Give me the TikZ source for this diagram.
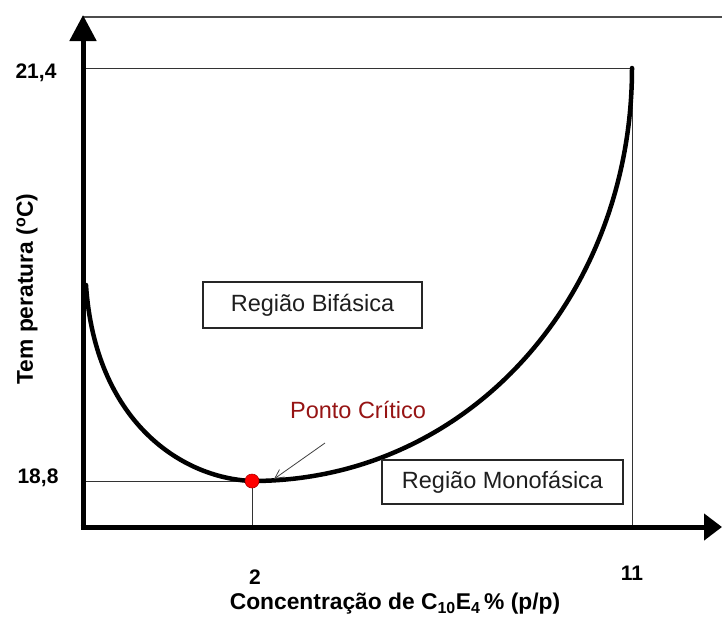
\documentclass[tikz,border=0pt]{standalone}
\usepackage{fontspec}
\setmainfont{Liberation Sans}
\usetikzlibrary{arrows.meta}
\definecolor{critred}{RGB}{150,20,20}
\definecolor{txtgray}{RGB}{30,30,30}
\begin{document}
\begin{tikzpicture}[x=1pt,y=-1pt,
  axis/.style={line width=5pt},
  thin/.style={line width=1pt,draw=black!80},
  toplinestyle/.style={line width=2pt,draw=black!70},
  regionbox/.style={draw=black!85,line width=1.2pt,minimum width=219pt,minimum height=46pt,inner sep=0pt,font=\fontsize{23.5}{27}\selectfont,text=txtgray},
  ticklabel/.style={font=\fontsize{21}{25}\selectfont\bfseries,inner sep=0pt},
  titlelabel/.style={font=\fontsize{22.8}{27}\selectfont\bfseries,inner sep=0pt},
  curve/.style={line width=4.5pt,line join=round,line cap=round}]
\useasboundingbox (0,0) rectangle (722,624);
% coordinates
\coordinate (O) at (83,527);
\coordinate (Ytop) at (83,15);
\coordinate (Xend) at (722,527);
\coordinate (T1) at (83,17);
\coordinate (T2) at (722,17);
\coordinate (H1) at (83,68);
\coordinate (H2) at (632,68);
\coordinate (V1) at (632,527);
\coordinate (L1) at (83,481);
\coordinate (L2) at (252,481);
\coordinate (M2) at (252,527);
\coordinate (C0) at (86,285);
\coordinate (C1) at (252,481);
\coordinate (C2) at (632,68);
% thin lines
\draw[toplinestyle] (T1) -- (T2);
\draw[thin] (H1) -- (H2) -- (V1);
\draw[thin] (L1) -- (L2) -- (M2);
% curve
\draw[curve] (C0) .. controls (95,420) and (180,478) .. (C1)
  .. controls (470,481) and (632,295) .. (C2);
% axes
\draw[axis,-{Triangle[length=26pt,width=26pt]}] (O) -- (Ytop);
\draw[axis,-{Triangle[length=18pt,width=26pt]}] ([xshift=-2.5pt]O) -- (Xend);
% critical point
\node[circle,fill=red,draw=red!70!black,line width=0.6pt,minimum size=14pt,inner sep=0pt] (cp) at (252,481) {};
\node[text=critred,font=\fontsize{23.5}{27}\selectfont,inner sep=0pt] (pc) at (358,410) {Ponto Crítico};
\coordinate (arrS) at (325,443);
\coordinate (arrE) at (274,479);
\draw[line width=0.8pt,black!75,-{Straight Barb[length=9pt,width=9pt]}] (arrS) -- (arrE);
% region boxes
\node[regionbox] (bif) at (312.5,305) {Região Bifásica};
\node[regionbox,minimum width=241pt,minimum height=44pt] (mono) at (502.5,482) {Região Monofásica};
% tick labels
\node[ticklabel] (t214) at (36,73) {21,4};
\node[ticklabel] (t188) at (38,478) {18,8};
\node[ticklabel] (t2) at (255,577) {2};
\node[ticklabel] (t11) at (632,573) {11};
% axis titles
\node[titlelabel] (xt) at (395,604) {Concentração de C\textsubscript{10}E\textsubscript{4}\,\% (p/p)};
\node[titlelabel,rotate=90] (yt) at (27,289) {Tem peratura (\textsuperscript{o}C)};
\end{tikzpicture}
\end{document}
